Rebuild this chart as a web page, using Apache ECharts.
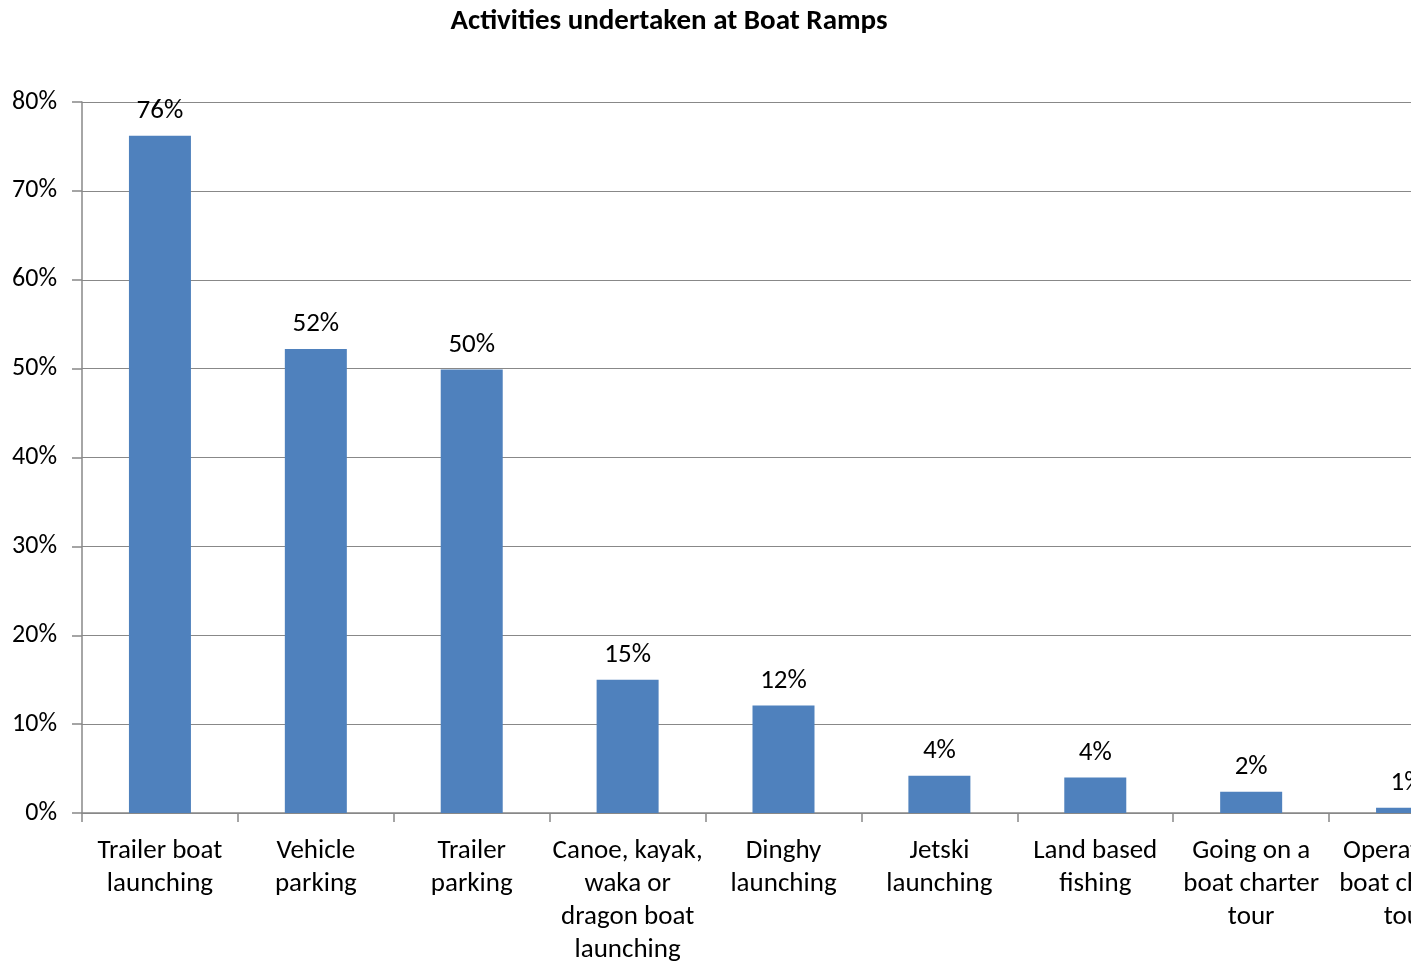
<!DOCTYPE html>
<html>
<head>
<meta charset="utf-8">
<title>Activities undertaken at Boat Ramps</title>
<script src="https://cdn.jsdelivr.net/npm/echarts@6/dist/echarts.min.js"></script>
<style>
  html, body { margin: 0; padding: 0; background: #ffffff; }
  #chart { width: 1411px; height: 962px; }
</style>
</head>
<body>
<div id="chart"></div>
<script>
// Share of respondents (%) for each activity at boat ramps
const categories = [
  'Trailer boat\nlaunching',
  'Vehicle\nparking',
  'Trailer\nparking',
  'Canoe, kayak,\nwaka or\ndragon boat\nlaunching',
  'Dinghy\nlaunching',
  'Jetski\nlaunching',
  'Land based\nfishing',
  'Going on a\nboat charter\ntour',
  'Operating a\nboat charter\ntour'
];
const shares = [76.2, 52.2, 49.9, 15.0, 12.1, 4.2, 4.0, 2.4, 0.6];
const yTicks = { min: 0, max: 80, step: 10 };

const FONT = 'Carlito, Calibri, Lato, "Open Sans", sans-serif';
const GRID_GRAY = '#888888';

const chart = echarts.init(document.getElementById('chart'), null, { renderer: 'canvas' });
chart.setOption({
  animation: false,
  backgroundColor: '#ffffff',
  title: {
    text: 'Activities undertaken at Boat Ramps',
    left: 664,
    top: 2,
    textAlign: 'center',
    textStyle: { fontFamily: FONT, fontSize: 29, fontWeight: 'bold', color: '#000000' }
  },
  // the plot runs past the right edge of the page, so the last category is clipped
  grid: { left: 82, top: 102, bottom: 149, right: -74, containLabel: false, outerBoundsMode: 'none' },
  xAxis: {
    type: 'category',
    data: categories,
    axisLine: { lineStyle: { color: GRID_GRAY, width: 1.5 } },
    axisTick: { show: true, length: 9, alignWithLabel: false, lineStyle: { color: GRID_GRAY, width: 1.5 } },
    axisLabel: {
      interval: 0,
      margin: 22,
      fontFamily: FONT,
      fontSize: 27,
      lineHeight: 33,
      color: '#000000',
      align: 'center',
      hideOverlap: false
    }
  },
  yAxis: {
    type: 'value',
    min: yTicks.min,
    max: yTicks.max,
    interval: yTicks.step,
    axisLine: { show: true, lineStyle: { color: GRID_GRAY, width: 1.5 } },
    axisTick: { show: true, inside: false, length: 10, lineStyle: { color: GRID_GRAY, width: 1.5 } },
    splitLine: { show: true, lineStyle: { color: GRID_GRAY, width: 1.2 } },
    axisLabel: {
      margin: 25,
      fontFamily: FONT,
      fontSize: 26,
      color: '#000000',
      formatter: '{value}%'
    }
  },
  series: [{
    type: 'bar',
    data: shares,
    barWidth: 62,
    itemStyle: { color: '#4f81bd' },
    label: {
      show: true,
      position: 'top',
      distance: 11,
      fontFamily: FONT,
      fontSize: 27,
      color: '#000000',
      formatter: p => Math.round(p.value) + '%'
    }
  }]
});
</script>
</body>
</html>
